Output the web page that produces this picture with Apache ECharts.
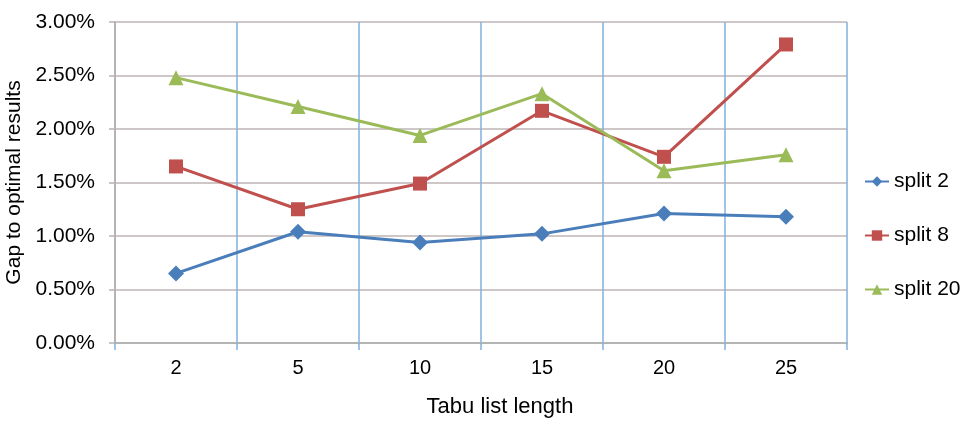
<!DOCTYPE html>
<html>
<head>
<meta charset="utf-8">
<script src="https://cdn.jsdelivr.net/npm/echarts@6/dist/echarts.min.js"></script>
<style>
  html, body { margin: 0; padding: 0; background: #fff; }
  #chart { width: 960px; height: 421px; }
</style>
</head>
<body>
<div id="chart"></div>
<script>
// Tabu list lengths on the x axis
const categories = ['2', '5', '10', '15', '20', '25'];
// Gap to optimal results (%), one array per split setting
const split2 = [0.65, 1.04, 0.94, 1.02, 1.21, 1.18];
const split8 = [1.65, 1.25, 1.49, 2.17, 1.74, 2.79];
const split20 = [2.48, 2.21, 1.94, 2.33, 1.61, 1.76];
// Value axis ticks
const yMin = 0, yMax = 3, yStep = 0.5;

const font = 'Liberation Sans, Arial, sans-serif';
const chart = echarts.init(document.getElementById('chart'), null, { renderer: 'canvas' });

function lineSeries(name, data, color, symbol, size) {
  return {
    name, type: 'line', data,
    symbol, symbolSize: size,
    itemStyle: { color },
    lineStyle: { color, width: 3 },
    emphasis: { disabled: true },
    z: 3
  };
}

chart.setOption({
  animation: false,
  backgroundColor: '#ffffff',
  textStyle: { fontFamily: font },
  grid: { left: 115, right: 113, top: 22, bottom: 78, outerBoundsMode: 'none', containLabel: false },
  legend: {
    orient: 'vertical',
    left: 864, top: 171,
    padding: 0,
    itemGap: 33,
    itemWidth: 24, itemHeight: 13,
    textStyle: { fontFamily: font, fontSize: 21, color: '#000' },
    data: ['split 2', 'split 8', 'split 20']
  },
  xAxis: {
    type: 'category',
    data: categories,
    boundaryGap: true,
    name: 'Tabu list length',
    nameLocation: 'middle',
    nameGap: 53,
    // the title sits a little right of the plot centre
    nameTextStyle: { fontFamily: font, fontSize: 22, color: '#000', padding: [0, 0, 0, 38] },
    axisLine: { lineStyle: { color: '#b4b4b4', width: 2 } },
    axisTick: { show: true, length: 7, lineStyle: { color: '#7fb0e0', width: 1.5 } },
    axisLabel: { fontFamily: font, fontSize: 20, color: '#000', margin: 15 },
    splitLine: { show: true, lineStyle: { color: '#7fb0e0', width: 1.5 } }
  },
  yAxis: {
    type: 'value',
    min: yMin, max: yMax, interval: yStep,
    name: 'Gap to optimal results',
    nameLocation: 'middle',
    nameGap: 87,
    nameTextStyle: { fontFamily: font, fontSize: 21, color: '#000' },
    axisLine: { show: true, lineStyle: { color: '#b4b4b4', width: 2 } },
    axisTick: { show: true, length: 6, lineStyle: { color: '#b4b4b4', width: 1.5 } },
    axisLabel: {
      fontFamily: font, fontSize: 21, color: '#000', margin: 20,
      formatter: v => v.toFixed(2) + '%'
    },
    splitLine: { show: true, lineStyle: { color: '#bdb4b4', width: 1.5 } }
  },
  series: [
    lineSeries('split 2', split2, '#4a7ebb', 'diamond', 16),
    lineSeries('split 8', split8, '#c0504d', 'rect', 14),
    lineSeries('split 20', split20, '#9bbb59', 'triangle', 15)
  ]
});
</script>
</body>
</html>
